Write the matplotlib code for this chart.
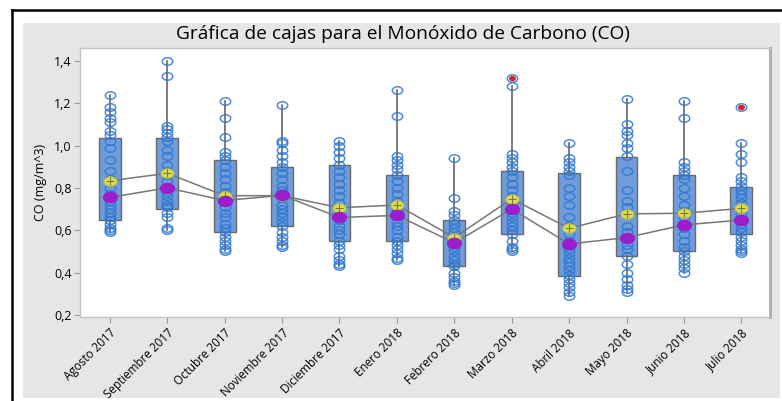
import numpy as np
import matplotlib
matplotlib.use("Agg")
import matplotlib.pyplot as plt
from matplotlib.path import Path
from matplotlib.patches import Rectangle
from matplotlib.lines import Line2D
from matplotlib.ticker import FuncFormatter

plt.rcParams['font.family'] = ['Open Sans', 'DejaVu Sans']

# Monthly CO concentrations (mg/m^3)
meses = ['Agosto 2017', 'Septiembre 2017', 'Octubre 2017', 'Noviembre 2017',
         'Diciembre 2017', 'Enero 2018', 'Febrero 2018', 'Marzo 2018',
         'Abril 2018', 'Mayo 2018', 'Junio 2018', 'Julio 2018']

valores = [
    [1.24, 1.18, 1.16, 1.13, 1.11, 1.07, 1.05, 1.02, 0.99, 0.93, 0.88, 0.84,
     0.80, 0.77, 0.74, 0.72, 0.70, 0.68, 0.66, 0.65, 0.63, 0.61, 0.60, 0.59],
    [1.40, 1.33, 1.09, 1.08, 1.06, 1.04, 1.02, 0.98, 0.95, 0.91, 0.88, 0.86,
     0.83, 0.80, 0.78, 0.76, 0.74, 0.72, 0.71, 0.68, 0.66, 0.61, 0.60],
    [1.21, 1.13, 1.04, 0.97, 0.95, 0.93, 0.90, 0.87, 0.84, 0.81, 0.78, 0.76,
     0.74, 0.71, 0.68, 0.66, 0.63, 0.61, 0.59, 0.57, 0.55, 0.53, 0.51, 0.50],
    [1.19, 1.02, 1.01, 0.98, 0.95, 0.92, 0.90, 0.87, 0.84, 0.81, 0.79, 0.77,
     0.75, 0.72, 0.70, 0.68, 0.66, 0.64, 0.62, 0.59, 0.57, 0.55, 0.53, 0.52],
    [1.02, 1.00, 0.97, 0.94, 0.91, 0.88, 0.85, 0.82, 0.79, 0.76, 0.73, 0.70,
     0.67, 0.65, 0.62, 0.60, 0.58, 0.55, 0.53, 0.51, 0.48, 0.46, 0.44, 0.43],
    [1.26, 1.14, 0.95, 0.93, 0.91, 0.89, 0.86, 0.83, 0.80, 0.77, 0.74, 0.71,
     0.69, 0.67, 0.64, 0.62, 0.60, 0.57, 0.55, 0.53, 0.51, 0.49, 0.47, 0.46],
    [0.94, 0.75, 0.69, 0.67, 0.65, 0.63, 0.61, 0.59, 0.57, 0.55, 0.54, 0.52,
     0.50, 0.48, 0.46, 0.44, 0.43, 0.40, 0.38, 0.36, 0.35, 0.34],
    [1.32, 1.28, 0.96, 0.94, 0.92, 0.90, 0.88, 0.85, 0.82, 0.79, 0.76, 0.73,
     0.70, 0.68, 0.66, 0.64, 0.62, 0.60, 0.58, 0.55, 0.52, 0.51, 0.50],
    [1.01, 0.94, 0.92, 0.90, 0.88, 0.86, 0.80, 0.76, 0.72, 0.66, 0.62, 0.58,
     0.55, 0.53, 0.51, 0.49, 0.47, 0.45, 0.43, 0.41, 0.39, 0.37, 0.35, 0.33,
     0.31, 0.29],
    [1.22, 1.10, 1.07, 1.05, 1.01, 0.99, 0.95, 0.88, 0.79, 0.74, 0.71, 0.68,
     0.62, 0.59, 0.56, 0.53, 0.51, 0.48, 0.44, 0.40, 0.37, 0.34, 0.32, 0.31],
    [1.21, 1.13, 0.92, 0.90, 0.88, 0.86, 0.84, 0.80, 0.76, 0.72, 0.69, 0.66,
     0.63, 0.61, 0.58, 0.55, 0.52, 0.50, 0.48, 0.46, 0.44, 0.42, 0.40],
    [1.18, 1.01, 0.96, 0.92, 0.85, 0.83, 0.81, 0.79, 0.77, 0.75, 0.73, 0.70,
     0.68, 0.65, 0.63, 0.61, 0.59, 0.57, 0.55, 0.53, 0.51, 0.50, 0.49],
]

# box statistics per month
q1 = [0.65, 0.70, 0.59, 0.62, 0.55, 0.55, 0.43, 0.58, 0.385, 0.48, 0.50, 0.58]
q3 = [1.035, 1.035, 0.93, 0.90, 0.91, 0.86, 0.65, 0.88, 0.87, 0.945, 0.86, 0.805]
medianas = [0.755, 0.80, 0.74, 0.765, 0.66, 0.67, 0.54, 0.70, 0.535, 0.565, 0.625, 0.648]
medias = [0.833, 0.869, 0.763, 0.763, 0.706, 0.719, 0.565, 0.748, 0.609, 0.677, 0.68, 0.703]
bigote_inf = [0.59, 0.60, 0.50, 0.52, 0.43, 0.46, 0.34, 0.50, 0.29, 0.31, 0.40, 0.49]
bigote_sup = [1.24, 1.40, 1.21, 1.19, 1.02, 1.26, 0.94, 1.28, 1.01, 1.22, 1.21, 1.01]

# outliers flagged in red
atipicos_mes = [8, 12]
atipicos_val = [1.32, 1.18]

# ellipse-shaped marker
circ = Path.unit_circle()
elipse = Path(circ.vertices * np.array([1.0, 0.72]), circ.codes)

fig = plt.figure(figsize=(7.82, 4.01), dpi=100)

# outer frame and gray panel
fig.add_artist(Rectangle((0.0294, 0.0075), 0.968, 0.935, transform=fig.transFigure,
                         facecolor='#e6e6e6', edgecolor='none', zorder=0))
fig.add_artist(Line2D([0.0153, 1.0], [0.975, 0.975], transform=fig.transFigure,
                      color='black', lw=1.8))
fig.add_artist(Line2D([0.0153, 0.0153], [0.0, 0.975], transform=fig.transFigure,
                      color='black', lw=1.8))

ax = fig.add_axes([0.1023, 0.2095, 0.8824, 0.6705])
ax.set_facecolor('white')

pos = np.arange(1, len(meses) + 1)

stats = []
for i in range(len(meses)):
    stats.append(dict(q1=q1[i], q3=q3[i], med=medianas[i], mean=medias[i],
                      whislo=bigote_inf[i], whishi=bigote_sup[i], fliers=[]))

ax.bxp(stats, positions=pos, widths=0.38, patch_artist=True, showcaps=False,
       showmeans=False, showfliers=False,
       boxprops=dict(facecolor='#709dd9', edgecolor='#6a6a6a', lw=1.0),
       whiskerprops=dict(color='#666666', lw=1.2),
       medianprops=dict(color='none'), zorder=2)

# individual values
for i, v in enumerate(valores):
    ax.plot(np.full(len(v), pos[i]), v, linestyle='none', marker=elipse,
            markersize=7.5, markerfacecolor='none', markeredgecolor='#2f78d2',
            markeredgewidth=1.1, alpha=0.85, zorder=3)

ax.plot(atipicos_mes, atipicos_val, linestyle='none', marker=elipse,
        markersize=4, color='#e02020', zorder=4)

# connect lines for mean and median
ax.plot(pos, medias, color='#777777', lw=1.1, zorder=4)
ax.plot(pos, medianas, color='#777777', lw=1.1, zorder=4)

ax.plot(pos, medias, linestyle='none', marker=elipse, markersize=9,
        markerfacecolor='#dede5a', markeredgecolor='#c8c840', zorder=5)
ax.plot(pos, medias, linestyle='none', marker='+', markersize=6,
        color='#7a7a30', markeredgewidth=0.8, zorder=6)
ax.plot(pos, medianas, linestyle='none', marker=elipse, markersize=10,
        color='#9a1ecb', zorder=6)

ax.set_xlim(0.48, 12.5)
ax.set_ylim(0.19, 1.46)
ax.set_yticks([0.2, 0.4, 0.6, 0.8, 1.0, 1.2, 1.4])
ax.yaxis.set_major_formatter(FuncFormatter(lambda y, _: f'{y:.1f}'.replace('.', ',')))
ax.set_xticks(pos)
ax.set_xticklabels(meses, rotation=45, ha='right', rotation_mode='anchor',
                   fontsize=8.4)
ax.tick_params(axis='y', labelsize=9, length=4, color='#999999', pad=2)
ax.tick_params(axis='x', length=4, color='#999999', pad=3)

for s in ['left', 'bottom', 'top']:
    ax.spines[s].set_color('#c4c4c4')
    ax.spines[s].set_linewidth(1.0)
ax.spines['right'].set_color('#b0b0b0')
ax.spines['right'].set_linewidth(2.2)

ax.set_ylabel('CO (mg/m^3)', fontsize=9, labelpad=5)
fig.text(0.515, 0.915, 'Gráfica de cajas para el Monóxido de Carbono (CO)',
         ha='center', va='center', fontsize=13.8)

fig.savefig('out.png', dpi=100)
